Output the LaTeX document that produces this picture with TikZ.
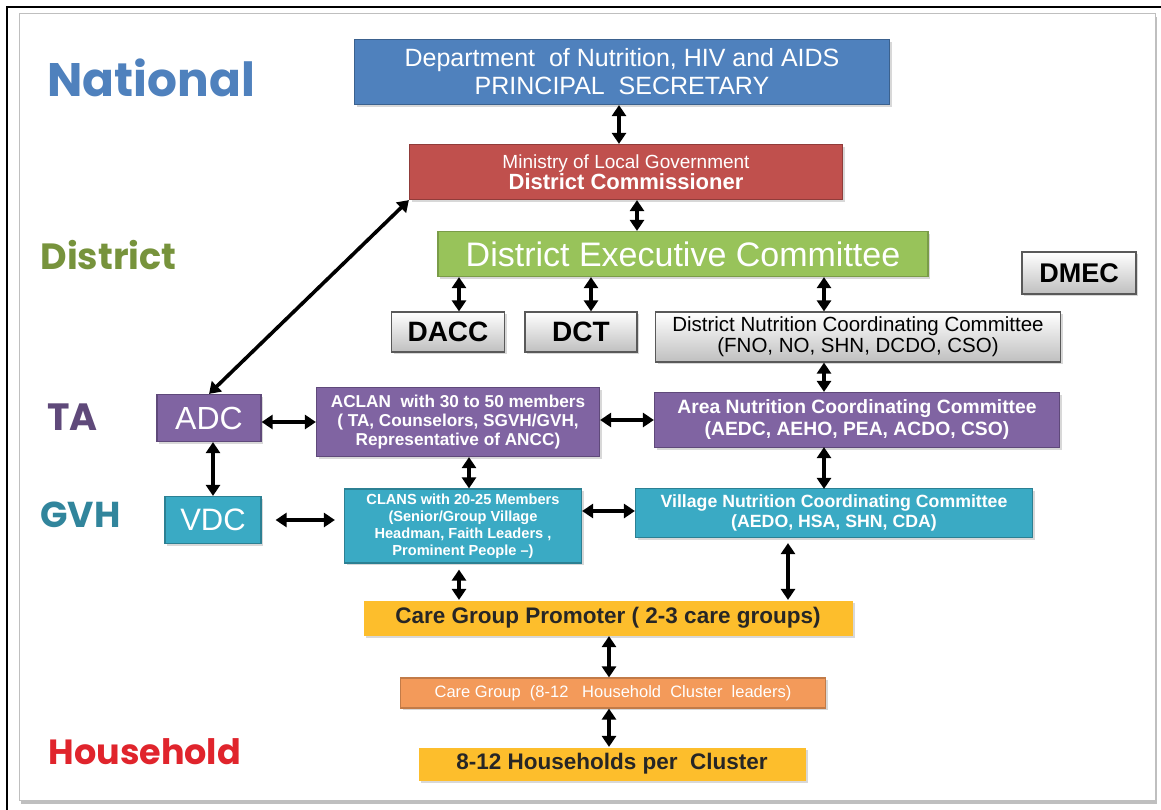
\documentclass[tikz,border=0pt]{standalone}
\usepackage{fontspec}
\setmainfont{Liberation Sans}
\newfontfamily\levelfont{Poppins}
\usepackage{tikz}
\usetikzlibrary{arrows.meta,shadows}
\definecolor{natblue}{HTML}{4F81BD}
\definecolor{dcred}{HTML}{C0504D}
\definecolor{decgreen}{HTML}{98C35A}
\definecolor{distgreen}{HTML}{77933C}
\definecolor{taviolet}{HTML}{8064A2}
\definecolor{tadark}{HTML}{5F497A}
\definecolor{gvhteal}{HTML}{3AAAC4}
\definecolor{gvhdark}{HTML}{31859C}
\definecolor{cgyellow}{HTML}{FDBE2C}
\definecolor{cgorange}{HTML}{F39A5A}
\definecolor{hhred}{HTML}{E0242C}
\tikzset{
  box/.style={draw, line width=1.2pt, align=center, inner sep=0pt,
    drop shadow={shadow xshift=2pt, shadow yshift=-2pt, opacity=0.3}},
  natbox/.style={box, fill=natblue, draw=natblue!75!black, text=white},
  dcbox/.style={box, fill=dcred, draw=dcred!75!black, text=white},
  decbox/.style={box, fill=decgreen, draw=decgreen!80!black, text=white},
  graybox/.style={box, top color=white, bottom color=black!25, draw=black!65, text=black},
  tabox/.style={box, fill=taviolet, draw=tadark, text=white},
  gvhbox/.style={box, fill=gvhteal, draw=gvhteal!75!black, text=white},
  yellowbox/.style={box, fill=cgyellow, draw=none, text=black!85},
  orangebox/.style={box, fill=cgorange, draw=cgorange!80!black, text=white},
  link/.style={line width=3.6pt, {Triangle[length=11pt,width=14pt]}-{Triangle[length=11pt,width=14pt]}},
  level/.style={anchor=west, font=\levelfont\bfseries}
}

\begin{document}
\begin{tikzpicture}[x=1pt, y=-1pt]
\useasboundingbox (0,0) rectangle (1161,809);
\draw[line width=1.2pt] (7,815) -- (7,7) -- (1167,7);
\draw[black!25, fill=white, drop shadow={shadow xshift=2pt, shadow yshift=-4pt, opacity=0.5}] (19,13) rectangle (1155,800);

\node[level, text=natblue, font=\levelfont\bfseries\fontsize{47}{49}\selectfont] (lnat) at (44,78) {National};
\node[level, text=distgreen, font=\levelfont\bfseries\fontsize{36.5}{38}\selectfont] (ldist) at (37,255) {District};
\node[level, text=tadark, font=\levelfont\bfseries\fontsize{38}{40}\selectfont] (lta) at (44,417) {TA};
\node[level, text=gvhdark, font=\levelfont\bfseries\fontsize{36}{38}\selectfont] (lgvh) at (37,515) {GVH};
\node[level, text=hhred, font=\levelfont\bfseries\fontsize{35}{37}\selectfont] (lhh) at (45,752) {Household};

\node[natbox, minimum width=535pt, minimum height=65pt, font=\fontsize{25}{28}\selectfont] (dept) at (622,72)
  {Department\ \ of Nutrition, HIV and AIDS\\PRINCIPAL\ \ SECRETARY};
\node[dcbox, minimum width=433pt, minimum height=55pt] (dc) at (626,172)
  {\fontsize{19}{22}\selectfont Ministry of Local Government\\\fontsize{22}{23}\selectfont\bfseries District Commissioner};
\node[decbox, minimum width=490pt, minimum height=45pt, font=\fontsize{34}{36}\selectfont] (dec) at (683,254) {District Executive Committee};
\node[graybox, minimum width=114pt, minimum height=42pt, font=\bfseries\fontsize{27}{29}\selectfont] (dmec) at (1079,273) {DMEC};
\node[graybox, minimum width=113pt, minimum height=40pt, font=\bfseries\fontsize{28}{30}\selectfont] (dacc) at (448,332) {DACC};
\node[graybox, minimum width=112pt, minimum height=40pt, font=\bfseries\fontsize{28}{30}\selectfont] (dct) at (581,332) {DCT};
\node[graybox, minimum width=405pt, minimum height=50pt, font=\fontsize{20.5}{21}\selectfont] (dncc) at (858,337)
  {District Nutrition Coordinating Committee\\(FNO, NO, SHN, DCDO, CSO)};

\node[tabox, minimum width=104pt, minimum height=47pt, font=\fontsize{32}{34}\selectfont] (adc) at (209,418) {ADC};
\node[tabox, minimum width=283pt, minimum height=69pt, font=\bfseries\fontsize{17.2}{19}\selectfont] (aclan) at (458,422)
  {ACLAN\ \ with 30 to 50 members\\( TA, Counselors,\ SGVH/GVH,\\Representative of ANCC)};
\node[tabox, minimum width=405pt, minimum height=55pt, font=\bfseries\fontsize{19.3}{22}\selectfont] (ancc) at (857,420)
  {Area Nutrition Coordinating Committee\\(AEDC, AEHO, PEA, ACDO, CSO)};

\node[gvhbox, minimum width=96pt, minimum height=47pt, font=\fontsize{31}{33}\selectfont] (vdc) at (213,520) {VDC};
\node[gvhbox, minimum width=237pt, minimum height=74pt, font=\bfseries\fontsize{14.6}{17}\selectfont] (clans) at (463,526)
  {CLANS with 20-25 Members\\(Senior/Group Village\\Headman, Faith Leaders ,\\Prominent People --)};
\node[gvhbox, minimum width=397pt, minimum height=49pt, font=\bfseries\fontsize{17.7}{20}\selectfont] (vncc) at (834,513)
  {Village Nutrition Coordinating Committee\\(AEDO, HSA, SHN, CDA)};

\node[yellowbox, minimum width=489pt, minimum height=35pt, font=\bfseries\fontsize{22.5}{24}\selectfont] (cgp) at (608,618)
  {Care Group Promoter ( 2-3 care groups)};
\node[orangebox, minimum width=425pt, minimum height=30pt, font=\fontsize{16.5}{18}\selectfont] (cg) at (613,693)
  {Care Group\ \ (8-12\ \ \ Household\ \ Cluster\ \ leaders)};
\node[yellowbox, minimum width=387pt, minimum height=33pt, font=\bfseries\fontsize{22.5}{24}\selectfont] (hh) at (612,764)
  {8-12 Households per\ \ Cluster};

\draw[link] ([xshift=-3pt]dept.south) -- ([xshift=-3pt]dept.south |- dc.north);
\draw[link] ([xshift=11pt]dc.south) -- ([xshift=11pt]dc.south |- dec.north);
\draw[link] ([xshift=11pt]dacc.north |- dec.south) -- ([xshift=11pt]dacc.north);
\draw[link] ([xshift=10pt]dct.north |- dec.south) -- ([xshift=10pt]dct.north);
\draw[link] ([xshift=-34pt]dncc.north |- dec.south) -- ([xshift=-34pt]dncc.north);
\draw[link] ([xshift=-34pt]dncc.south) -- ([xshift=-34pt]dncc.south |- ancc.north);
\draw[link] (adc.north) -- (dc.south west);
\draw[link] ([yshift=-4pt]adc.east) -- ([yshift=-4pt]aclan.west |- adc.east);
\draw[link] ([yshift=2pt]aclan.east) -- ([yshift=2pt]aclan.east -| ancc.west);
\draw[link] (vdc.north |- adc.south) -- (vdc.north);
\draw[link, shorten <=14pt, shorten >=9pt] (vdc.east) -- (vdc.east -| clans.west);
\draw[link] ([xshift=6pt]clans.north |- aclan.south) -- ([xshift=6pt]clans.north);
\draw[link] ([yshift=2pt]clans.east |- vncc.west) -- ([yshift=2pt]vncc.west);
\draw[link, shorten >=-1pt, shorten <=-1pt] ([xshift=-33pt]ancc.south) -- ([xshift=-33pt]ancc.south |- vncc.north);
\draw[link, shorten <=6pt] ([xshift=-4pt]clans.south) -- ([xshift=-4pt]clans.south |- cgp.north);
\draw[link, shorten <=5pt] ([xshift=-46pt]vncc.south) -- ([xshift=-46pt]vncc.south |- cgp.north);
\draw[link] ([xshift=-4pt]cg.north |- cgp.south) -- ([xshift=-4pt]cg.north);
\draw[link] ([xshift=-4pt]cg.south) -- ([xshift=-4pt]cg.south |- hh.north);
\end{tikzpicture}
\end{document}
